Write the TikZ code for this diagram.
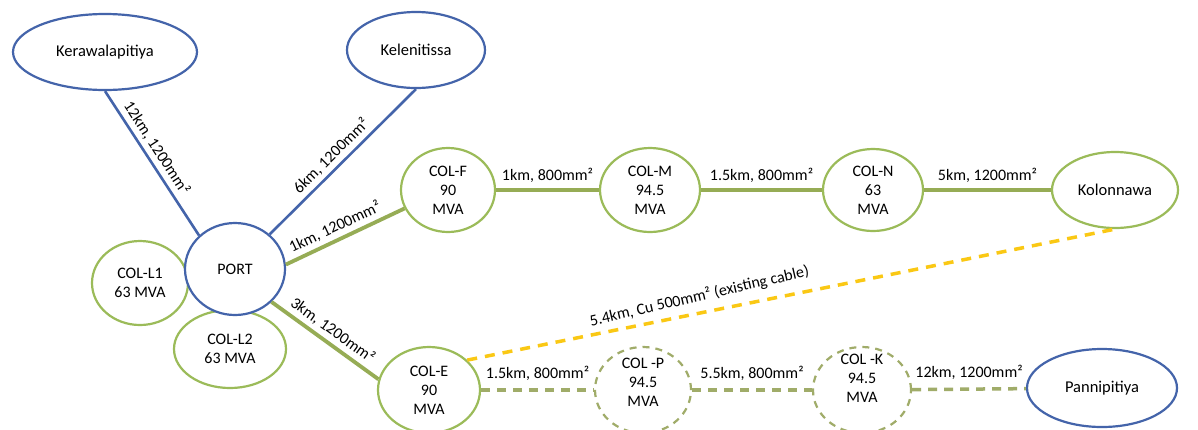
\documentclass[tikz,border=0pt]{standalone}
\usepackage{fontspec}
\setmainfont{Carlito}
\usetikzlibrary{shapes.geometric}
\definecolor{bl}{RGB}{68,100,170}
\definecolor{gr}{RGB}{155,187,89}
\definecolor{grl}{RGB}{150,172,85}
\definecolor{grd}{RGB}{160,172,105}
\definecolor{yl}{RGB}{250,200,20}
\newcommand{\txt}{\fontsize{16}{19}\selectfont}
\newcommand{\ptxt}{\fontsize{16.5}{19}\selectfont}
\tikzset{
  base/.style={ellipse, fill=white, inner sep=0pt, align=center, line width=2.2pt},
  bnode/.style={base, draw=bl, font=\ptxt},
  gnode/.style={base, draw=gr, font=\txt},
  gplace/.style={base, draw=gr, font=\ptxt},
  dnode/.style={base, draw=grd, font=\txt, dash pattern=on 7pt off 6pt},
  bline/.style={draw=bl, line width=2.6pt},
  gline/.style={draw=grl, line width=3.8pt},
  gdash/.style={draw=grd, line width=3.5pt, dash pattern=on 9pt off 7pt},
  ydash/.style={draw=yl, line width=3.5pt, dash pattern=on 10pt off 8pt},
  lbl/.style={font=\txt, inner sep=1pt}
}
\newcommand{\rstack}[2]{\raisebox{#1}[\height][\depth]{\begin{tabular}{@{}c@{}}#2\end{tabular}}}
\begin{document}
\begin{tikzpicture}[x=1pt,y=-1pt]
\useasboundingbox[fill=white] (0,0) rectangle (1198,429);
% nodes
\node[bnode, minimum width=184pt, minimum height=76pt] (Ker) at (105,52) {Kerawalapitiya};
\node[bnode, minimum width=138pt, minimum height=76pt] (Kel) at (416,50) {Kelenitissa};
\node[gnode, minimum width=96pt, minimum height=84pt] (L1) at (140,283) {COL-L1\\63 MVA};
\node[gnode, minimum width=112pt, minimum height=78pt] (L2) at (230,349) {COL-L2\\63 MVA};
\node[bnode, font=\txt, minimum width=100pt, minimum height=92pt] (PORT) at (235,269) {PORT};
\node[gnode, minimum width=94pt, minimum height=84pt] (COLF) at (448,190) {COL-F\\90\\MVA};
\node[gnode, minimum width=100pt, minimum height=84pt] (COLM) at (650,190) {COL-M\\94.5\\MVA};
\node[gnode, minimum width=100pt, minimum height=82pt] (COLN) at (873,190) {COL-N\\63\\MVA};
\node[gplace, minimum width=126pt, minimum height=76pt] (Kol) at (1115,190) {Kolonnawa};
\node[gnode, minimum width=102pt, minimum height=86pt] (COLE) at (429,390) {COL-E\\90\\MVA};
\node[dnode, minimum width=96pt, minimum height=86pt] (COLP) at (643,390) {\rstack{6pt}{COL -P\\94.5\\MVA}};
\node[dnode, minimum width=98pt, minimum height=86pt] (COLK) at (862,390) {\rstack{10pt}{COL -K\\94.5\\MVA}};
\node[bnode, minimum width=150pt, minimum height=78pt] (Pan) at (1102,388) {Pannipitiya};
% connectors
\draw[bline] (Ker.south) -- node[lbl, sloped, above=3pt, pos=0.44] {12km, 1200mm²} (PORT.137);
\draw[bline] (PORT.45) -- node[lbl, sloped, above=3pt, pos=0.48] {6km, 1200mm²} (Kel.south);
\draw[gline] (PORT.5) -- node[lbl, sloped, above=3pt, pos=0.46] {1km, 1200mm²} (COLF.203);
\draw[gline] (PORT.-42) -- node[lbl, sloped, above=3pt, pos=0.5] {3km, 1200mm²} (COLE.168);
\draw[gline] (COLF) -- node[lbl, above=5pt] {1km, 800mm²} (COLM);
\draw[gline] (COLM) -- node[lbl, above=5pt] {1.5km, 800mm²} (COLN);
\draw[gline] (COLN) -- node[lbl, above=5pt] {5km, 1200mm²} (Kol);
\draw[ydash] (COLE.38) -- coordinate[pos=0.36] (ym) (Kol.south);
\node[lbl, rotate=13, anchor=base] (ylab) at ([yshift=12pt]ym) {5.4km, Cu 500mm² (existing cable)};
\draw[gdash] (COLE) -- node[lbl, above=7pt] {1.5km, 800mm²} (COLP);
\draw[gdash] (COLP) -- node[lbl, above=7pt] {5.5km, 800mm²} (COLK);
\draw[gdash] (COLK) -- node[lbl, above=7pt] {12km, 1200mm²} (Pan);
\end{tikzpicture}
\end{document}
